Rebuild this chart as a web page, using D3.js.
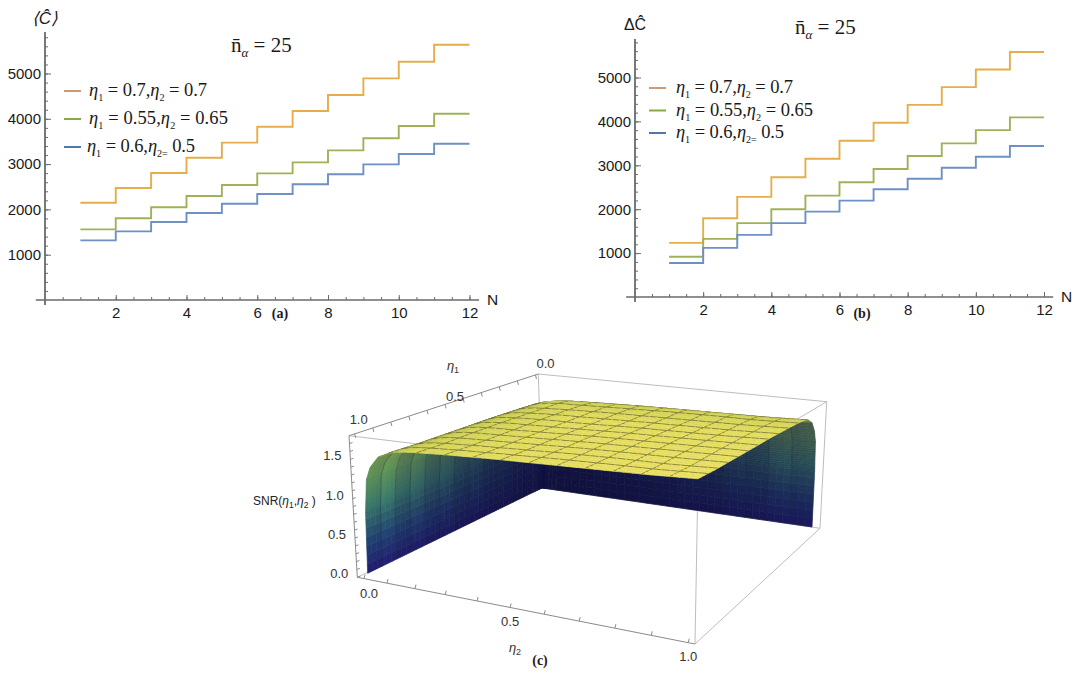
<!DOCTYPE html>
<html><head><meta charset="utf-8">
<script src="https://cdnjs.cloudflare.com/ajax/libs/d3/7.8.5/d3.min.js"></script>
<style>html,body{margin:0;padding:0;background:#fff}svg{display:block}
.sans{font-family:"Liberation Sans",Arial,sans-serif}.serif{font-family:"Liberation Serif","Times New Roman",serif}</style>
</head><body><svg id="c" width="1075" height="673"></svg>
<script>
// ---- data ----
const stepN = [1,2,3,4,5,6,7,8,9,10,11,12];
const aOrange = [2148,2472,2803,3141,3473,3826,4172,4525,4893,5260,5635];
const aGreen  = [1560,1803,2046,2296,2539,2796,3039,3304,3569,3841,4113];
const aBlue   = [1317,1516,1722,1920,2126,2340,2554,2775,2995,3223,3450];
const bOrange = [1234,1795,2280,2727,3150,3559,3968,4377,4780,5182,5582];
const bGreen  = [916,1325,1682,2000,2309,2614,2916,3211,3500,3802,4091];
const bBlue   = [773,1120,1416,1682,1945,2195,2455,2695,2945,3195,3439];
const xTicks = [2,4,6,8,10,12];
const xMinor = d3.range(0.5,12.01,0.5);
const yTicks = [1000,2000,3000,4000,5000];
const yMinor = d3.range(200,5801,200);
const legendLabels = [
 [["η","i"],["1","s"],[" = 0.7,",""],["η","i"],["2","s"],[" = 0.7",""]],
 [["η","i"],["1","s"],[" = 0.55,",""],["η","i"],["2","s"],[" = 0.65",""]],
 [["η","i"],["1","s"],[" = 0.6,",""],["η","i"],["2=","s"],[" 0.5",""]]
];
// SNR surface: heights read on a non-uniform grid (rows eta1, columns eta2)
const etaGrid = [0,.004,.012,.025,.05,.09,.15,.25,.4,.55,.7,.85,1];
const snr = [
 [0,0,0,0,0,0,0,0,0,0,0,0,0],
 [0,.36,.56,.64,.70,.74,.76,.77,.78,.78,.79,.79,.80],
 [0,.56,.87,1.00,1.10,1.16,1.18,1.20,1.21,1.22,1.23,1.23,1.25],
 [0,.64,1.00,1.14,1.25,1.32,1.35,1.37,1.38,1.40,1.40,1.41,1.42],
 [0,.70,1.10,1.25,1.38,1.46,1.49,1.50,1.52,1.54,1.54,1.55,1.57],
 [0,.74,1.16,1.32,1.46,1.54,1.57,1.59,1.61,1.62,1.63,1.64,1.66],
 [0,.76,1.18,1.35,1.49,1.57,1.61,1.62,1.64,1.66,1.67,1.67,1.69],
 [0,.77,1.20,1.37,1.50,1.59,1.62,1.64,1.66,1.67,1.68,1.69,1.71],
 [0,.78,1.21,1.38,1.52,1.61,1.64,1.66,1.67,1.69,1.70,1.71,1.73],
 [0,.78,1.22,1.40,1.53,1.62,1.66,1.67,1.69,1.71,1.72,1.73,1.74],
 [0,.79,1.23,1.40,1.54,1.63,1.67,1.68,1.70,1.72,1.73,1.74,1.75],
 [0,.79,1.23,1.41,1.55,1.64,1.67,1.69,1.71,1.73,1.74,1.74,1.76],
 [0,.80,1.25,1.42,1.57,1.66,1.69,1.71,1.73,1.74,1.75,1.76,1.78]
];
const etaTicks = [0,.5,1];
const etaMinor = d3.range(0,1.001,.1);
const zTicks = [0,.5,1,1.5];
const zMinor = d3.range(0,1.76,.1);

// ---- colours and styles ----
const lineCols = ["#e5ad4b","#9fb257","#6f90c4"];
const legendCols = ["#cf9a72","#84aa48","#4d78a8"];
const svg = d3.select("#c");

function rich(g,x,y,parts,size,width){
  const t=g.append("text").attr("class","serif").attr("x",x).attr("y",y).attr("font-size",size).attr("fill","#1a1a1a").attr("xml:space","preserve");
  let sub=false;
  parts.forEach(([s,k])=>{
    const sp=t.append("tspan").text(s);
    if(k==="i") sp.attr("font-style","italic");
    if(k==="s"){sp.attr("font-size",size*0.55).attr("dy",size*0.28);sub=true;}
    else if(sub){sp.attr("dy",-size*0.28);sub=false;}
  });
  const n=parts.reduce((a,p)=>a+p[0].length,0);
  const len=t.node().getComputedTextLength();
  t.attr("letter-spacing",((width-len)/n).toFixed(3));
  return t;
}

function panel(o){
  const g=svg.append("g");
  const x=d3.scaleLinear().domain([0,12]).range([o.x0,o.x12]);
  const y=d3.scaleLinear().domain([0,5000]).range([o.y0,o.y5000]);
  const ax=g.append("g").attr("transform",`translate(0,${o.y0})`);
  ax.append("g").call(d3.axisBottom(x).tickValues(xMinor).tickSizeInner(-3).tickSizeOuter(0).tickFormat(""));
  ax.append("g").call(d3.axisBottom(x).tickValues(xTicks).tickSizeInner(-5).tickSizeOuter(0).tickPadding(7).tickFormat(d3.format("d")));
  const ay=g.append("g").attr("transform",`translate(${o.x0},0)`);
  ay.append("g").call(d3.axisLeft(y).tickValues(yMinor.filter(v=>y(v)>o.yTop)).tickSizeInner(-3).tickSizeOuter(0).tickFormat(""));
  ay.append("g").call(d3.axisLeft(y).tickValues(yTicks).tickSizeInner(-6).tickSizeOuter(0).tickPadding(4).tickFormat(d3.format("d")));
  g.selectAll(".domain").remove();
  g.selectAll(".tick line").attr("stroke","#6a6a6a").attr("stroke-width",1);
  g.selectAll(".tick text").attr("font-size",15).attr("font-family","Liberation Sans").attr("fill","#1a1a1a");
  g.append("line").attr("x1",x(-.26)).attr("x2",x(12.27)).attr("y1",o.y0).attr("y2",o.y0).attr("stroke","#6a6a6a").attr("stroke-width",1.6);
  g.append("line").attr("x1",o.x0).attr("x2",o.x0).attr("y1",o.y0+5).attr("y2",o.yTop).attr("stroke","#6a6a6a").attr("stroke-width",1.8);
  const line=d3.line().curve(d3.curveStepAfter).x(d=>x(d[0])).y(d=>y(d[1]));
  o.series.forEach((s,i)=>{
    const pts=stepN.map((n,k)=>[n,s[Math.min(k,s.length-1)]]);
    g.append("path").attr("d",line(pts)).attr("fill","none").attr("stroke",lineCols[i]).attr("stroke-width",1.9);
  });
  g.append("text").attr("class","sans").attr("x",o.Nx).attr("y",o.y0+5).attr("font-size",15.5).attr("fill","#1a1a1a").text("N");
  g.append("text").attr("class","serif").attr("x",o.capX).attr("y",318).attr("font-size",14).attr("font-weight","bold").attr("text-anchor","middle").attr("fill","#1a1a1a").text(o.cap);
  g.append("text").attr("class","sans").attr("x",o.ylX).attr("y",o.ylY).attr("font-size",o.ylS).attr("font-style",o.yItalic?"italic":"normal").attr("text-anchor","middle").attr("fill","#1a1a1a").text(o.yl);
  const n=g.append("text").attr("class","serif").attr("x",o.nX).attr("y",o.nY).attr("font-size",21).attr("fill","#1a1a1a").attr("xml:space","preserve");
  n.append("tspan").text("n\u0304");
  n.append("tspan").text("α").attr("font-style","italic").attr("font-size",13).attr("dy",5);
  n.append("tspan").text(" = 25").attr("dy",-5);
  legendLabels.forEach((p,i)=>{
    const ly=o.legY+i*o.legStep;
    g.append("line").attr("x1",o.legX).attr("x2",o.legX+17).attr("y1",ly).attr("y2",ly).attr("stroke",legendCols[i]).attr("stroke-width",2);
    rich(g,o.legTx[i],ly+5,p,18.5,o.legW[i]);
  });
}
panel({x0:45,x12:469.5,y0:300,y5000:73.5,yTop:32,series:[aOrange,aGreen,aBlue],Nx:487,capX:280,cap:"(a)",yl:"⟨Ĉ⟩",ylS:17,yItalic:true,ylX:45,ylY:24,nX:231,nY:52,legX:64,legY:91,legStep:28,legTx:[89,89,87],legW:[118,139,108]});
panel({x0:635,x12:1044,y0:297,y5000:77.5,yTop:39,series:[bOrange,bGreen,bBlue],Nx:1061,capX:862,cap:"(b)",yl:"ΔĈ",ylS:16,yItalic:false,ylX:635,ylY:30,nX:795,nY:34,legX:649,legY:88,legStep:22.5,legTx:[676,676,676],legW:[117,137,108]});

// ---- 3D panel: perspective box and surface ----
const Zmax=1.8;
const base={a:[367.7,573.3],h:[542,488],e:[812,527],f:[690,634]};   // (η1,η2)=(1,0),(0,0),(0,1),(1,1)
const top_={a:[360,438],h:[540,376],e:[819,403],f:[698,477]};
function bil(q,e1,e2,k){return (1-e1)*(1-e2)*q.h[k]+(1-e1)*e2*q.e[k]+e1*(1-e2)*q.a[k]+e1*e2*q.f[k];}
const zFrac=d3.scaleLinear().domain([0,Zmax]).range([0,1]);
function proj(e1,e2,z){const t=zFrac(z);return [0,1].map(k=>bil(base,e1,e2,k)*(1-t)+bil(top_,e1,e2,k)*t);}
function idx(e){return Math.min(d3.bisectRight(etaGrid,e)-1,etaGrid.length-2);}
function height(e1,e2){
  const i=idx(e1),j=idx(e2);
  const a=(e1-etaGrid[i])/(etaGrid[i+1]-etaGrid[i]),b=(e2-etaGrid[j])/(etaGrid[j+1]-etaGrid[j]);
  return (1-a)*(1-b)*snr[i][j]+(1-a)*b*snr[i][j+1]+a*(1-b)*snr[i+1][j]+a*b*snr[i+1][j+1];
}
const A=[357.3,577.3],B=[349,435.7],C=[538.3,374],D=[826.7,401.7],E=[820,528.3],F=[695,644],G=[698,478],H=[542,488];
const g3=svg.append("g");
const seg=(p,q,col,w)=>g3.append("line").attr("x1",p[0]).attr("y1",p[1]).attr("x2",q[0]).attr("y2",q[1]).attr("stroke",col).attr("stroke-width",w);
[[C,D],[D,E],[G,D],[B,G],[F,G],[E,F],[C,H],[A,H],[E,H]].forEach(([p,q])=>seg(p,q,"#bdbdbd",1));
[[A,F],[A,B],[B,C]].forEach(([p,q])=>seg(p,q,"#8a8a8a",1));

const wallLevels=d3.range(0,.012,.0006).concat([.012,.014,.016,.018,.02,.0225,.025,.03,.035,.04,.05]);
const fine=wallLevels.concat(d3.range(2,37).map(k=>k/36));
const zRamp=d3.scaleLinear().domain([0,.4,.9,1.3,1.7]).range(["#241c78","#24487a","#3f8a70","#6ba558","#7c9e50"]).clamp(true);
const dark=d3.color("#10103c");
const yellow=d3.scaleLinear().domain([.05,.14,.35,1]).range(["#a9b34a","#d6d65c","#e6e063","#eee368"]).clamp(true);
const sm=(a,b,x)=>{const t=Math.max(0,Math.min(1,(x-a)/(b-a)));return t*t*(3-2*t);};
function shade(e1,e2,z){
  const m=Math.min(e1,e2), w=sm(.04,.11,m);
  const s=e2<=e1;
  const along=s?e1:e2;
  const band=Math.floor(along*12)%2?0.88:1;
  const k=(s?.1+.9*Math.pow(along,1.2):.03+.55*Math.pow(along,1.8))*band;
  const wall=d3.interpolateRgb(dark,zRamp(z))(k);
  return d3.interpolateRgb(wall,yellow(m))(w);
}
const poly=d3.line();
const surf=g3.append("g");
const isMesh=v=>v>0&&v<1&&Math.abs(v*12-Math.round(v*12))<1e-6;
const P=(u,v)=>proj(u,v,height(u,v));
for(let i=0;i<fine.length-1;i++){
  for(let j=0;j<fine.length-1;j++){
    const a=fine[i],b=fine[i+1],c=fine[j],d=fine[j+1];
    const q=[P(a,c),P(a,d),P(b,d),P(b,c)];
    const col=shade((a+b)/2,(c+d)/2,height((a+b)/2,(c+d)/2));
    surf.append("path").attr("d",poly(q)+"Z").attr("fill",col).attr("stroke",col).attr("stroke-width",.7);
    const mean=Math.min((a+b)/2,(c+d)/2)>.06;
    const lc=mean?"#4d4d24":"#161c2a",lo=mean?.75:.4;
    if(isMesh(a)) surf.append("path").attr("d",poly([q[0],q[1]])).attr("stroke",lc).attr("stroke-opacity",lo).attr("stroke-width",.8).attr("fill","none");
    if(isMesh(c)) surf.append("path").attr("d",poly([q[0],q[3]])).attr("stroke",lc).attr("stroke-opacity",lo).attr("stroke-width",.8).attr("fill","none");
  }
}
const fE2=d3.scalePow().exponent(1.15).domain([0,1]).range([.02,.98]);
const fE1=d3.scaleLinear().domain([1,0]).range([.03,.985]);
const fZ=d3.scaleLinear().domain([0,Zmax]).range([0,1]);
const lerp=(p,q,t)=>[p[0]+(q[0]-p[0])*t,p[1]+(q[1]-p[1])*t];
etaMinor.forEach(v=>{
  const p=lerp(A,F,fE2(v));seg(p,[p[0]+1,p[1]-4],"#8a8a8a",1);
  const r=lerp(B,C,fE1(v));seg(r,[r[0]+1,r[1]+4],"#8a8a8a",1);
});
zMinor.forEach(v=>{const p=lerp(A,B,fZ(v));seg(p,[p[0]+3,p[1]-1],"#8a8a8a",1);});
const lab=(x,y,t,s)=>g3.append("text").attr("class","sans").attr("x",x).attr("y",y).attr("font-size",s||13).attr("text-anchor","middle").attr("fill","#333").text(t);
etaTicks.forEach(v=>{const p=lerp(A,F,fE2(v));lab(p[0]+(v==0?5:0),p[1]+(v==0?19:(v==1?18:19)),d3.format(".1f")(v));});
etaTicks.forEach(v=>{const p=lerp(B,C,fE1(v));lab(p[0]+(v==1?4:10),p[1]-(v==1?10:(v==.5?3:7)),d3.format(".1f")(v));});
zTicks.forEach(v=>{const p=lerp(A,B,fZ(v));lab(p[0]-18,p[1]+1,d3.format(".1f")(v));});
const t1=g3.append("text").attr("class","sans").attr("x",453).attr("y",370).attr("font-size",13).attr("text-anchor","middle").attr("fill","#333");
t1.append("tspan").text("η").attr("font-style","italic");t1.append("tspan").text("1").attr("font-size",9).attr("dy",3);
const t2=g3.append("text").attr("class","sans").attr("x",515).attr("y",652).attr("font-size",13).attr("text-anchor","middle").attr("fill","#333");
t2.append("tspan").text("η").attr("font-style","italic");t2.append("tspan").text("2").attr("font-size",9).attr("dy",3);
const t3=g3.append("text").attr("class","sans").attr("x",253).attr("y",505).attr("font-size",12).attr("fill","#222");
t3.append("tspan").text("SNR(");t3.append("tspan").text("η").attr("font-style","italic");t3.append("tspan").text("1").attr("font-size",8.5).attr("dy",3);
t3.append("tspan").text(",").attr("dy",-3);t3.append("tspan").text("η").attr("font-style","italic");t3.append("tspan").text("2").attr("font-size",8.5).attr("dy",3);t3.append("tspan").text(" )").attr("dy",-3);
g3.append("text").attr("class","serif").attr("x",540).attr("y",665).attr("font-size",14).attr("font-weight","bold").attr("text-anchor","middle").attr("fill","#222").text("(c)");
</script></body></html>
